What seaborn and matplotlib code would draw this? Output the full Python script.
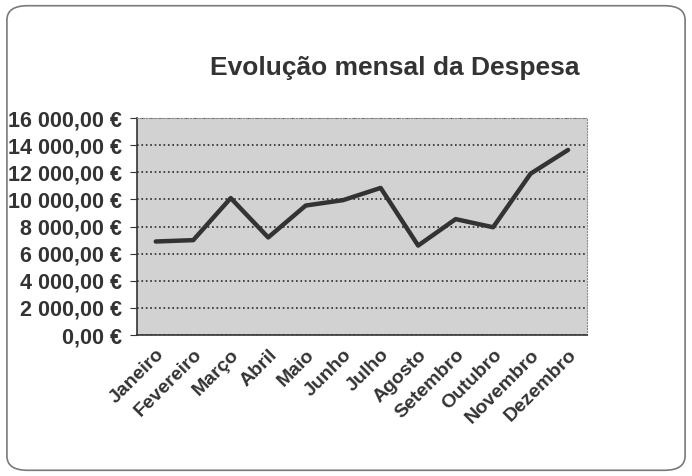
import numpy as np
import pandas as pd
import matplotlib
matplotlib.use("Agg")
import matplotlib.pyplot as plt
import seaborn as sns
from matplotlib.patches import FancyBboxPatch
from matplotlib.ticker import FuncFormatter, FixedLocator

# Dados
meses = ['Janeiro', 'Fevereiro', 'Março', 'Abril', 'Maio', 'Junho',
         'Julho', 'Agosto', 'Setembro', 'Outubro', 'Novembro', 'Dezembro']
despesa = [6900, 7000, 10100, 7200, 9550, 9950,
           10850, 6600, 8550, 7950, 11900, 13650]
y_ticks = [0, 2000, 4000, 6000, 8000, 10000, 12000, 14000, 16000]

df = pd.DataFrame({'mes': meses, 'despesa': despesa})

sns.set_style("white")
plt.rcParams['font.family'] = ['Liberation Sans', 'DejaVu Sans']

texto = '#333333'
fig = plt.figure(figsize=(6.92, 4.76), dpi=100)

# moldura arredondada
moldura = FancyBboxPatch((0.01, 0.012), 0.98, 0.976,
                         boxstyle="round,pad=0,rounding_size=0.03",
                         transform=fig.transFigure, fill=False,
                         edgecolor='#7a7a7a', linewidth=1.2)
fig.patches.append(moldura)

ax = fig.add_axes([0.198, 0.296, 0.650, 0.456])
ax.set_facecolor('#d2d2d2')

sns.lineplot(data=df, x='mes', y='despesa', ax=ax, color='#333333',
             linewidth=3.2, sort=False)

ax.set_xlim(-0.5, len(meses) - 0.5)
ax.set_ylim(0, 16000)
ax.set_yticks(y_ticks)
ax.yaxis.set_major_formatter(FuncFormatter(
    lambda v, p: f"{v:,.2f}".replace(',', ' ').replace('.', ',') + ' €'))

ax.grid(axis='y', linestyle=':', color='#2a2a2a', linewidth=1.2)
ax.set_axisbelow(True)

ax.xaxis.set_minor_locator(FixedLocator(np.arange(-0.5, len(meses), 1)))
ax.tick_params(axis='x', which='major', length=0, pad=8)
ax.tick_params(axis='x', which='minor', length=5, color='#333333', direction='out')
ax.tick_params(axis='y', length=5, color='#333333', direction='out', left=True, pad=6)
ax.set_xticks(range(len(meses)))
ax.set_xticklabels(meses, rotation=45, ha='right', rotation_mode='anchor',
                   fontsize=14, fontweight='bold', color=texto)
for lbl in ax.get_yticklabels():
    lbl.set_fontsize(15.5)
    lbl.set_fontweight('bold')
    lbl.set_color(texto)

ax.set_xlabel('')
ax.set_ylabel('')

for s in ['left', 'bottom']:
    ax.spines[s].set_color('#333333')
    ax.spines[s].set_linewidth(1.2)
for s in ['top', 'right']:
    ax.spines[s].set_color('#8a8a8a')
    ax.spines[s].set_linestyle(':')

fig.text(0.571, 0.857, 'Evolução mensal da Despesa', ha='center', va='center',
         fontsize=19, fontweight='bold', color=texto)

plt.savefig('out.png', dpi=100)
plt.close()
